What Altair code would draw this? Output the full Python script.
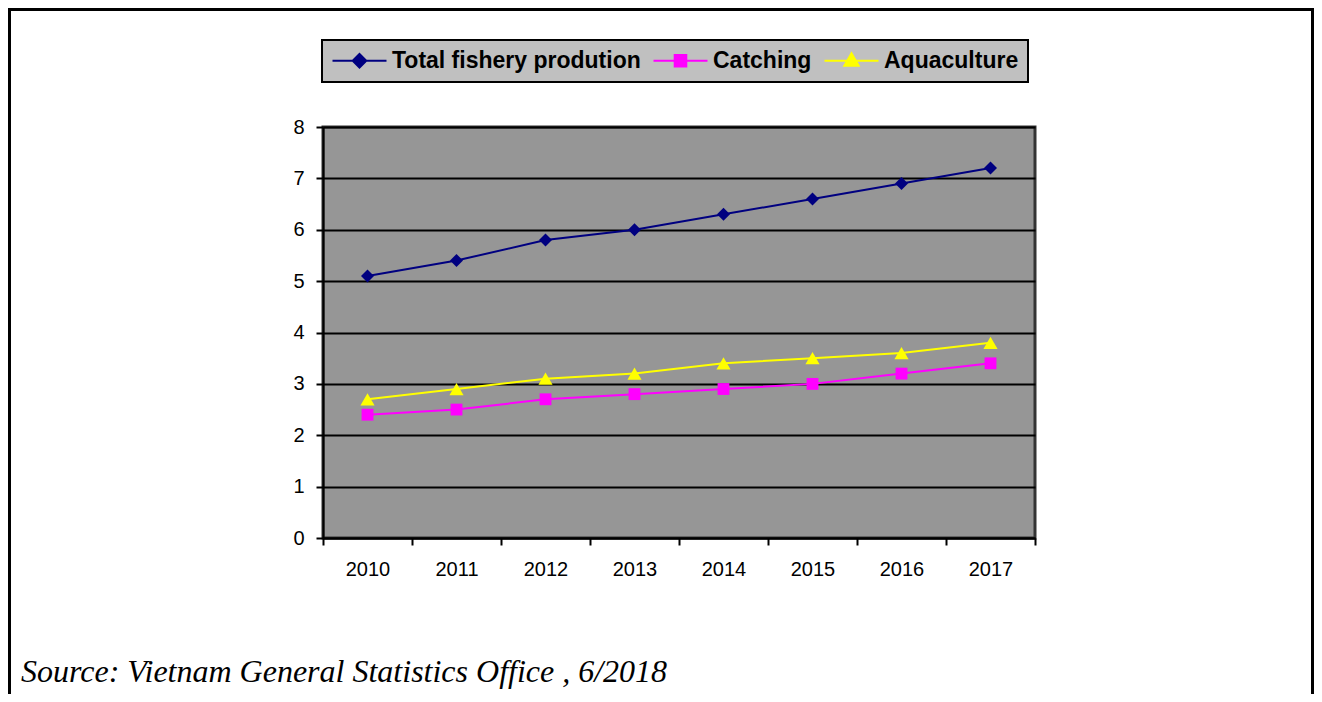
import altair as alt
import pandas as pd

years = ["2010", "2011", "2012", "2013", "2014", "2015", "2016", "2017"]
series_names = ["Total fishery prodution", "Catching", "Aquaculture"]
total = [5.1, 5.4, 5.8, 6.0, 6.3, 6.6, 6.9, 7.2]
catching = [2.4, 2.5, 2.7, 2.8, 2.9, 3.0, 3.2, 3.4]
aquaculture = [2.7, 2.9, 3.1, 3.2, 3.4, 3.5, 3.6, 3.8]
colors = ["#000080", "#FF00FF", "#FFFF00"]
marker_shapes = ["diamond", "square", "triangle-up"]
marker_sizes = [170, 140, 200]
source_text = ["Source: Vietnam General Statistics Office , 6/2018"]

rows = []
for name, vals in zip(series_names, [total, catching, aquaculture]):
    for y, v in zip(years, vals):
        rows.append({"year": y, "value": v, "series": name})
df = pd.DataFrame(rows)

W, H = 712, 411
PAD_L, PAD_T = 315, 119
TOTAL_W, TOTAL_H = 1306, 686

x_enc = alt.X(
    "year:N",
    sort=years,
    scale=alt.Scale(paddingInner=0, paddingOuter=0),
    axis=alt.Axis(
        title=None, labelAngle=0, tickBand="extent", grid=False,
        domainColor="black", domainWidth=2, tickColor="black", tickWidth=2,
        tickSize=7, labelPadding=14, labelFont="Liberation Sans",
        labelFontSize=20, labelColor="black",
    ),
)
y_enc = alt.Y(
    "value:Q",
    scale=alt.Scale(domain=[0, 8], nice=False),
    axis=alt.Axis(
        title=None, values=list(range(0, 9)), grid=True, gridColor="black",
        gridWidth=2, gridOpacity=1, domainColor="black", domainWidth=2,
        tickColor="black", tickWidth=2, tickSize=7, labelPadding=12,
        labelFont="Liberation Sans", labelFontSize=20, labelColor="black",
    ),
)

color_scale = alt.Scale(domain=series_names, range=colors)

legend_paths = [
    "M-1,0L4.4,0M1.7,-0.68L2.38,0L1.7,0.68L1.02,0Z",
    "M-1,0L4.4,0M1.12,-0.58L2.28,-0.58L2.28,0.58L1.12,0.58Z",
    "M-1,0L4.4,0M1.7,-0.75L2.42,0.5L0.98,0.5Z",
]
leg = alt.Legend(
    orient="none", legendX=-1, legendY=-87, direction="horizontal",
    title=None, fillColor="#C0C0C0", strokeColor="black", padding=9,
    labelFont="Liberation Sans", labelFontSize=23, labelFontWeight="bold",
    labelColor="black", labelLimit=400, symbolSize=400, symbolStrokeWidth=2,
    symbolOpacity=1, columnPadding=8, labelOffset=38,
)
# Off-screen, clipped layer whose only job is to carry the legend
legend_layer = alt.Chart(df).mark_point(filled=True, clip=True, strokeWidth=2).encode(
    x=x_enc,
    y=y_enc,
    xOffset=alt.value(-5000),
    fill=alt.Fill("series:N", scale=color_scale, legend=leg),
    stroke=alt.Stroke("series:N", scale=color_scale, legend=leg),
    shape=alt.Shape("series:N", scale=alt.Scale(domain=series_names, range=legend_paths), legend=leg),
)

lines = alt.Chart(df).mark_line(strokeWidth=2).encode(
    x=alt.X("year:N", sort=years),
    y="value:Q",
    stroke=alt.Stroke("series:N", scale=color_scale),
)

point_layers = []
for name, shp, sz in zip(series_names, marker_shapes, marker_sizes):
    point_layers.append(
        alt.Chart(df).transform_filter(alt.datum.series == name)
        .mark_point(shape=shp, filled=True, size=sz, opacity=1)
        .encode(
            x=alt.X("year:N", sort=years),
            y="value:Q",
            fill=alt.Fill("series:N", scale=color_scale),
        )
    )

border = alt.Chart(df).mark_rule(color="black", strokeWidth=3, clip=False).encode(
    x=alt.value(-PAD_L + 1.5), x2=alt.value(TOTAL_W - PAD_L - 1.5),
    y=alt.value(-PAD_T + 1.5),
)
left_border = alt.Chart(df).mark_rule(color="black", strokeWidth=3, clip=False).encode(
    x=alt.value(-PAD_L + 1.5), y=alt.value(-PAD_T), y2=alt.value(TOTAL_H - PAD_T),
)
right_border = alt.Chart(df).mark_rule(color="black", strokeWidth=3, clip=False).encode(
    x=alt.value(TOTAL_W - PAD_L - 1.5), y=alt.value(-PAD_T), y2=alt.value(TOTAL_H - PAD_T),
)

source = alt.Chart(pd.DataFrame({"t": source_text})).mark_text(
    align="left", baseline="alphabetic", font="Liberation Serif",
    fontStyle="italic", fontWeight="normal", fontSize=32, color="black", clip=False,
).encode(
    x=alt.value(21 - 323), y=alt.value(682 - 127), text="t:N",
)

chart = alt.layer(
    legend_layer, lines, *point_layers, border, left_border, right_border, source
).properties(
    width=W, height=H,
    padding={"left": PAD_L, "top": PAD_T, "right": TOTAL_W - PAD_L - W, "bottom": TOTAL_H - PAD_T - H},
    autosize=alt.AutoSizeParams(type="none"),
    background="white",
).configure_view(
    fill="#969696", stroke="#333333", strokeWidth=3,
).configure_legend(
    strokeWidth=2,
)

chart.save("out.html", embed_options={"renderer": "svg", "actions": False})
